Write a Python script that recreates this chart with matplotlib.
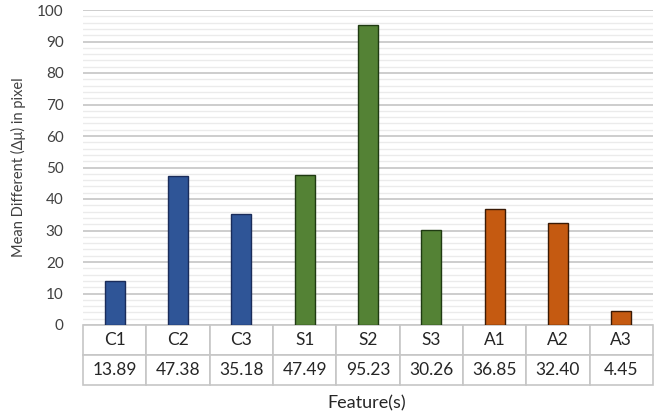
import numpy as np
import matplotlib
matplotlib.use("Agg")
from matplotlib import pyplot as plt
from matplotlib.ticker import MultipleLocator

plt.rcParams['font.family'] = ['Lato', 'DejaVu Sans']

features = ['C1', 'C2', 'C3', 'S1', 'S2', 'S3', 'A1', 'A2', 'A3']
values = [13.89, 47.38, 35.18, 47.49, 95.23, 30.26, 36.85, 32.40, 4.45]
groups = ['C', 'C', 'C', 'S', 'S', 'S', 'A', 'A', 'A']

fill = {'C': '#2f5597', 'S': '#548235', 'A': '#c55a11'}
edge = {'C': '#1a2c5a', 'S': '#1f3a12', 'A': '#3a1a05'}

fig = plt.figure(figsize=(6.66, 4.16), dpi=100)
ax = fig.add_axes([83/666, 1 - 325/416, 570/666, 315/416])

x = np.arange(len(features))
ax.bar(x, values, width=0.32,
       color=[fill[g] for g in groups],
       edgecolor=[edge[g] for g in groups], linewidth=1.0, zorder=3)

ax.set_xlim(-0.5, len(features) - 0.5)
ax.set_ylim(0, 100)
ax.yaxis.set_major_locator(MultipleLocator(10))
ax.yaxis.set_minor_locator(MultipleLocator(2))
ax.grid(which='major', axis='y', color='#c9c9c9', linewidth=1.3, zorder=0)
ax.grid(which='minor', axis='y', color='#ebebeb', linewidth=1.0, zorder=0)
ax.tick_params(axis='y', which='both', length=0, labelsize=11, colors='#404040', pad=14)
ax.set_xticks([])
for s in ax.spines.values():
    s.set_visible(False)

ax.set_ylabel('Mean Different (\u0394\u03bc) in pixel', fontsize=10.5, color='#404040', labelpad=8)

cell_text = [features, ['%.2f' % v for v in values]]
tab = ax.table(cellText=cell_text, cellLoc='center',
               bbox=[0, -60/315, 1, 60/315])
tab.auto_set_font_size(False)
tab.set_fontsize(12.5)
for (r, c), cell in tab.get_celld().items():
    cell.set_edgecolor('#c6c6c6')
    cell.set_linewidth(1.2)
    cell.get_text().set_color('#262626')

fig.text(367/666, 1 - 403/416, 'Feature(s)', ha='center', va='center',
         fontsize=13, color='#262626')

fig.savefig('out.png', dpi=100)
